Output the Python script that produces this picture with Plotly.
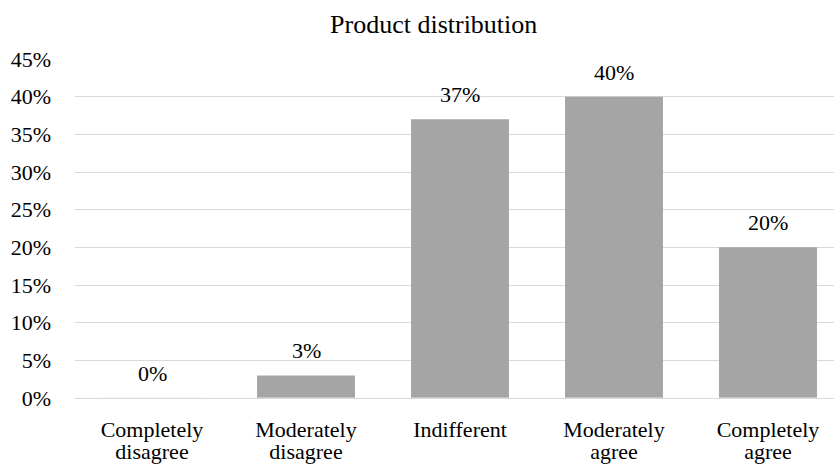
import plotly.graph_objects as go

# Survey answers and the share of respondents for each
categories = ["Completely disagree", "Moderately disagree", "Indifferent",
              "Moderately agree", "Completely agree"]
line1 = ["Completely", "Moderately", "Indifferent", "Moderately", "Completely"]
line2 = ["disagree", "disagree", "", "agree", "agree"]
shares = [0.00, 0.03, 0.37, 0.40, 0.20]
y_ticks = [0, 0.05, 0.10, 0.15, 0.20, 0.25, 0.30, 0.35, 0.40, 0.45]
y_tick_labels = ["0%", "5%", "10%", "15%", "20%", "25%", "30%", "35%", "40%", "45%"]

SERIF = "Liberation Serif"
label_font = dict(family=SERIF, size=22, color="black")
positions = list(range(len(categories)))

fig = go.Figure()
fig.add_trace(go.Bar(
    x=positions,
    y=shares,
    marker=dict(color="#a5a5a5", line=dict(width=0)),
    hovertext=categories,
    showlegend=False,
))
# empty trace on the overlaid axis that carries the second line of each category name
fig.add_trace(go.Bar(x=positions, y=[0] * len(positions), xaxis="x2",
                     showlegend=False, hoverinfo="skip"))

# value labels above each bar
for xi, v in zip(positions, shares):
    fig.add_annotation(
        x=xi, y=v, xref="x", yref="y",
        text=f"{round(v * 100)}%",
        showarrow=False, yanchor="bottom", yshift=10,
        font=label_font,
    )

x_range = [-0.5, 4.4286]
fig.update_layout(
    width=834, height=466,
    margin=dict(l=75, r=0, t=59, b=68),
    paper_bgcolor="white", plot_bgcolor="white",
    bargap=0.364,
    barmode="overlay",
    title=dict(
        text="Product distribution",
        x=0.52, xref="container", xanchor="center",
        y=1 - 24 / 466, yref="container", yanchor="middle",
        font=dict(family=SERIF, size=26, color="black"),
    ),
    xaxis=dict(
        range=x_range,
        tickmode="array", tickvals=positions, ticktext=line1,
        showgrid=False, zeroline=False, showline=False,
        ticks="", ticklabelstandoff=16,
        tickfont=label_font,
    ),
    xaxis2=dict(
        range=x_range, overlaying="x", anchor="y", side="bottom",
        tickmode="array", tickvals=positions, ticktext=line2,
        showgrid=False, zeroline=False, showline=False,
        ticks="", ticklabelstandoff=38,
        tickfont=label_font,
    ),
    yaxis=dict(
        range=[0, 0.45],
        tickmode="array", tickvals=y_ticks, ticktext=y_tick_labels,
        showgrid=True, gridcolor="#d9d9d9", gridwidth=1,
        zeroline=True, zerolinecolor="#d9d9d9", zerolinewidth=1,
        showline=False, ticks="", ticklabelstandoff=23,
        tickfont=label_font,
    ),
)

fig.write_html("out.html")
